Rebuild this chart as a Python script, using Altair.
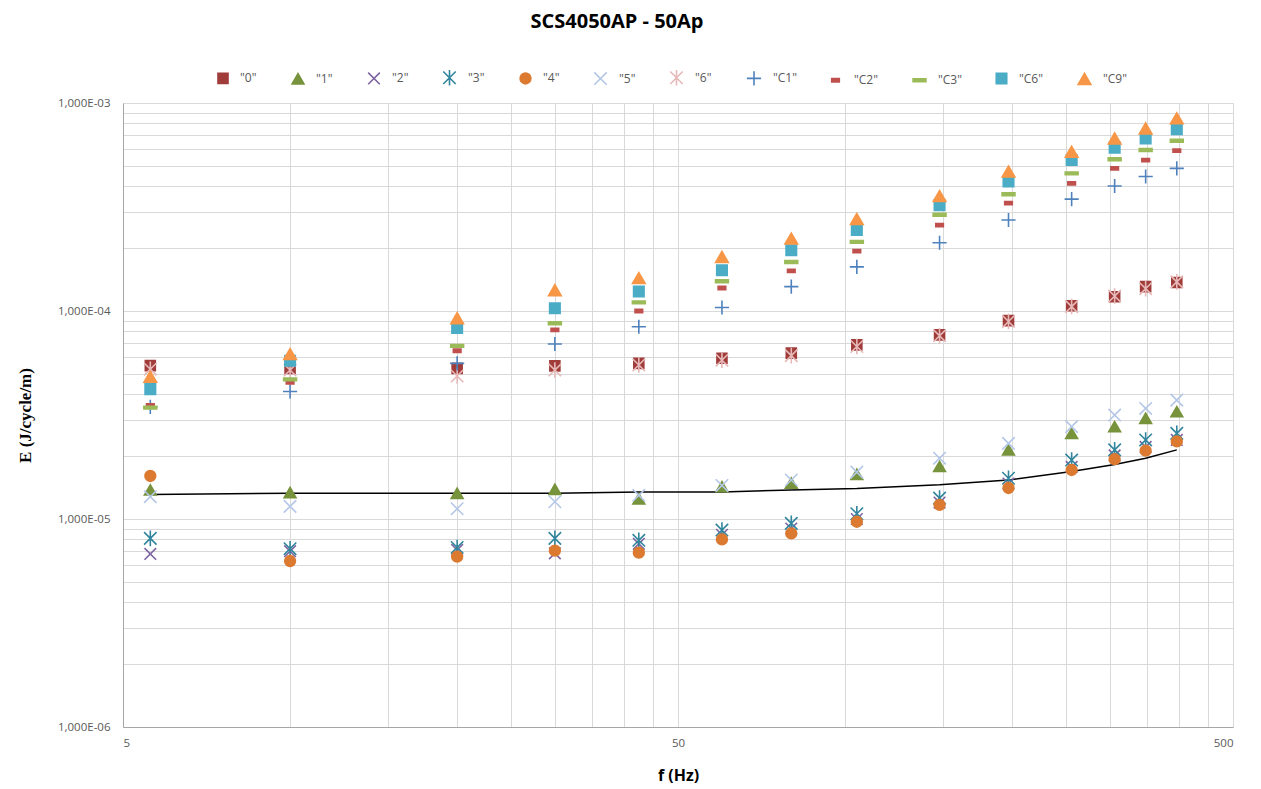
import altair as alt
import pandas as pd

# ---------------- data ----------------
freq = [5.6, 10, 20, 30, 42.5, 60, 80, 105, 148, 197, 256, 306, 348, 396]

s0 = [5.46e-5, 5.3e-5, 5.3e-5, 5.45e-5, 5.6e-5, 5.93e-5, 6.27e-5, 6.87e-5, 7.68e-5, 8.99e-5, 1.06e-4, 1.17e-4, 1.31e-4, 1.37e-4]
s1 = [1.38e-5, 1.34e-5, 1.33e-5, 1.39e-5, 1.25e-5, 1.43e-5, 1.49e-5, 1.64e-5, 1.79e-5, 2.15e-5, 2.58e-5, 2.78e-5, 3.05e-5, 3.28e-5]
s2 = [6.79e-6, 7.0e-6, 7.1e-6, 6.84e-6, 7.6e-6, 8.4e-6, 9.0e-6, 1.0e-5, 1.2e-5, 1.48e-5, 1.78e-5, 2.02e-5, 2.22e-5, 2.4e-5]
s3 = [8.07e-6, 7.2e-6, 7.3e-6, 8.07e-6, 7.9e-6, 8.85e-6, 9.53e-6, 1.06e-5, 1.26e-5, 1.57e-5, 1.92e-5, 2.15e-5, 2.4e-5, 2.58e-5]
s4 = [1.61e-5, 6.28e-6, 6.59e-6, 7.05e-6, 6.89e-6, 7.98e-6, 8.53e-6, 9.7e-6, 1.17e-5, 1.41e-5, 1.72e-5, 1.94e-5, 2.13e-5, 2.36e-5]
s5 = [1.28e-5, 1.15e-5, 1.12e-5, 1.21e-5, 1.3e-5, 1.45e-5, 1.54e-5, 1.68e-5, 1.96e-5, 2.31e-5, 2.78e-5, 3.16e-5, 3.4e-5, 3.73e-5]
s6 = [5.25e-5, 5.2e-5, 4.87e-5, 5.2e-5, 5.5e-5, 5.8e-5, 6.1e-5, 6.75e-5, 7.6e-5, 8.9e-5, 1.05e-4, 1.18e-4, 1.28e-4, 1.38e-4]
c1 = [3.46e-5, 4.1e-5, 5.6e-5, 6.94e-5, 8.4e-5, 1.04e-4, 1.31e-4, 1.63e-4, 2.13e-4, 2.74e-4, 3.45e-4, 3.99e-4, 4.43e-4, 4.85e-4]
c2 = [3.52e-5, 4.54e-5, 6.44e-5, 8.11e-5, 1.0e-4, 1.29e-4, 1.56e-4, 1.94e-4, 2.59e-4, 3.3e-4, 4.11e-4, 4.85e-4, 5.32e-4, 5.9e-4]
c3 = [3.43e-5, 4.69e-5, 6.8e-5, 8.73e-5, 1.1e-4, 1.39e-4, 1.72e-4, 2.15e-4, 2.9e-4, 3.64e-4, 4.59e-4, 5.36e-4, 5.94e-4, 6.59e-4]
c6 = [4.21e-5, 5.77e-5, 8.28e-5, 1.03e-4, 1.24e-4, 1.57e-4, 1.96e-4, 2.45e-4, 3.23e-4, 4.19e-4, 5.32e-4, 6.1e-4, 6.76e-4, 7.48e-4]
c9 = [4.83e-5, 6.21e-5, 9.24e-5, 1.26e-4, 1.44e-4, 1.82e-4, 2.23e-4, 2.77e-4, 3.57e-4, 4.68e-4, 5.83e-4, 6.76e-4, 7.55e-4, 8.44e-4]

fit_E = [1.31e-5, 1.33e-5, 1.33e-5, 1.33e-5, 1.35e-5, 1.35e-5, 1.38e-5, 1.40e-5, 1.46e-5, 1.54e-5, 1.69e-5, 1.83e-5, 1.96e-5, 2.15e-5]

names = ['"0"', '"1"', '"2"', '"3"', '"4"', '"5"', '"6"', '"C1"', '"C2"', '"C3"', '"C6"', '"C9"']
values = [s0, s1, s2, s3, s4, s5, s6, c1, c2, c3, c6, c9]

# ---------------- styles ----------------
colors = ["#A03C3A", "#77933C", "#7D64A0", "#31859C", "#DB7A30", "#B4C7E7",
          "#E6B9B8", "#4F81BD", "#C0504D", "#9BBB59", "#4BACC6", "#F79646"]
X_PATH = "M-1,-1L1,1M-1,1L1,-1"
AST_PATH = "M-1,-1L1,1M-1,1L1,-1M0,-1.25L0,1.25"
PLUS_PATH = "M-1,0L1,0M0,-1L0,1"
DASH_S = "M-0.6,-0.25H0.6V0.25H-0.6Z"
DASH_L = "M-1,-0.22H1V0.22H-1Z"
shapes = ["square", "triangle-up", X_PATH, AST_PATH, "circle", X_PATH,
          AST_PATH, PLUS_PATH, DASH_S, DASH_L, "square", "triangle-up"]
fills = [colors[0], colors[1], "transparent", "transparent", colors[4], "transparent",
         "transparent", "transparent", colors[8], colors[9], colors[10], colors[11]]
sizes = [100, 140, 135, 155, 115, 155, 155, 200, 160, 165, 110, 160]

rows = []
for n, vals in zip(names, values):
    for f, e in zip(freq, vals):
        rows.append({"f": f, "E": e, "series": n})
df = pd.DataFrame(rows)
fit_df = pd.DataFrame({"f": freq, "E": fit_E})

x_ticks = [5, 10, 15, 20, 25, 30, 35, 40, 45, 50, 100, 150, 200, 250, 300, 350, 400, 450, 500]
y_ticks = [k * 10.0 ** d for d in (-6, -5, -4) for k in range(1, 10)] + [1e-3]

FONT = "Open Sans"
x_scale = alt.Scale(type="log", domain=[5, 500], nice=False)
y_scale = alt.Scale(type="log", domain=[1e-6, 1e-3], nice=False)

x_axis = alt.Axis(
    title="f (Hz)", values=x_ticks, grid=True, ticks=False,
    labelExpr="indexof([5, 50, 500], datum.value) >= 0 ? '' + datum.value : ''",
    labelOverlap=False, labelFont=FONT, labelFontSize=11.5, labelColor="#595959",
    labelPadding=10, titleFont=FONT, titleFontSize=16, titleFontWeight="bold",
    titleColor="#000000", titleY=48, titleBaseline="middle",
    gridColor="#D9D9D9", domainColor="#A6A6A6",
)
y_axis = alt.Axis(
    title="E (J/cycle/m)", values=y_ticks, grid=True, ticks=False,
    labelExpr="abs(log(datum.value)/LN10 - round(log(datum.value)/LN10)) < 1e-6 ? '1,000E-0' + (-round(log(datum.value)/LN10)) : ''",
    labelOverlap=False, labelFont=FONT, labelFontSize=11.5, labelColor="#595959",
    labelPadding=13, titleFont="Liberation Serif", titleFontSize=17, titleFontWeight="bold",
    titleColor="#000000", titleX=-98, titleY=312, titleBaseline="middle", titleAngle=-90,
    gridColor="#D9D9D9", domainColor="#A6A6A6",
)

legend = alt.Legend(
    orient="none", direction="horizontal", legendX=94, legendY=-33, title=None,
    labelFont=FONT, labelFontSize=12, labelColor="#595959",
    symbolSize=120, symbolStrokeWidth=1.6, labelOffset=11, columnPadding=31,
)

line = alt.Chart(fit_df).mark_line(color="#000000", strokeWidth=1.5).encode(
    x=alt.X("f:Q", scale=x_scale, axis=x_axis),
    y=alt.Y("E:Q", scale=y_scale, axis=y_axis),
)

points = alt.Chart(df).mark_point(opacity=1, strokeWidth=1.6, filled=False).encode(
    x=alt.X("f:Q", scale=x_scale, axis=x_axis),
    y=alt.Y("E:Q", scale=y_scale, axis=y_axis),
    color=alt.Color("series:N", scale=alt.Scale(domain=names, range=colors), legend=legend),
    shape=alt.Shape("series:N", scale=alt.Scale(domain=names, range=shapes), legend=legend),
    fill=alt.Fill("series:N", scale=alt.Scale(domain=names, range=fills), legend=legend),
    size=alt.Size("series:N", scale=alt.Scale(type="ordinal", domain=names, range=sizes), legend=None),
)

chart = alt.layer(line, points).properties(
    width=1110, height=624,
    title=alt.TitleParams("SCS4050AP - 50Ap", font=FONT, fontSize=20, fontWeight="bold",
                          color="#000000", anchor="middle", frame="group", dx=-61, offset=38),
    autosize=alt.AutoSizeParams(type="none"),
    padding={"left": 123, "top": 103, "right": 28, "bottom": 62},
).configure_view(stroke="#D9D9D9").configure(background="#FFFFFF")

chart.save("out.html", embed_options={"renderer": "svg", "actions": False})
